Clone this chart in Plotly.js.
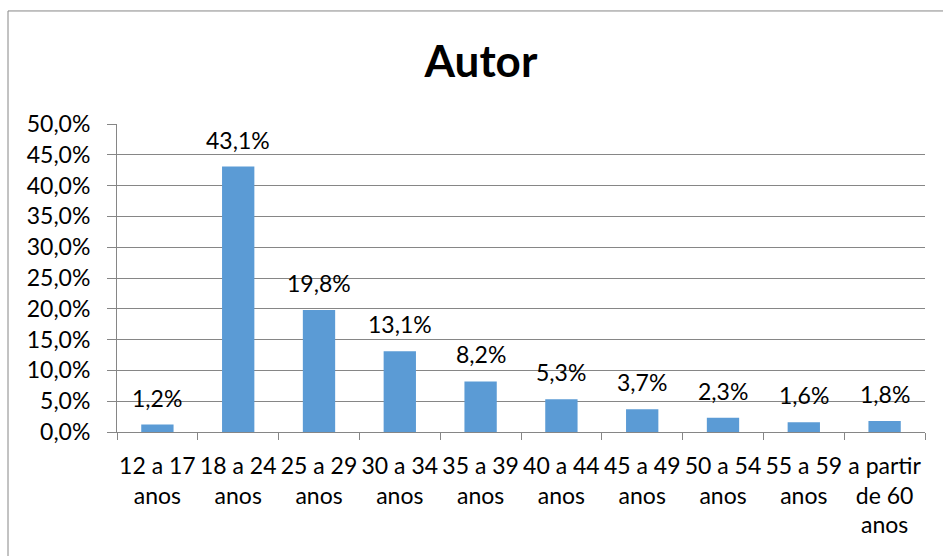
<!DOCTYPE html>
<html>
<head>
<meta charset="utf-8">
<script src="https://cdn.plot.ly/plotly-3.0.1.min.js"></script>
<style>html,body{margin:0;padding:0;background:#fff;}#chart{width:943px;height:556px;}</style>
</head>
<body>
<div id="chart"></div>
<script>
const categories = ["12 a 17<br>anos","18 a 24<br>anos","25 a 29<br>anos","30 a 34<br>anos","35 a 39<br>anos","40 a 44<br>anos","45 a 49<br>anos","50 a 54<br>anos","55 a 59<br>anos","a partir<br>de 60<br>anos"];
const values = [0.012, 0.431, 0.198, 0.131, 0.082, 0.053, 0.037, 0.023, 0.016, 0.018];
const labels = ["1,2%","43,1%","19,8%","13,1%","8,2%","5,3%","3,7%","2,3%","1,6%","1,8%"];

const FONT = "Lato, 'Open Sans', sans-serif";
const GRAY = "#868686";

const annotations = categories.map((c, i) => ({
  x: c, y: values[i], xref: "x", yref: "y",
  text: labels[i], showarrow: false, yanchor: "bottom", yshift: 11,
  font: {family: FONT, size: 23, color: "#000"}
}));

const trace = {
  type: "bar", x: categories, y: values,
  marker: {color: "#5B9BD5"}, width: 0.4, hoverinfo: "skip"
};

const layout = {
  width: 943, height: 556,
  margin: {l: 117, r: 18, t: 124, b: 124},
  paper_bgcolor: "#fff", plot_bgcolor: "#fff",
  separators: ",.",
  showlegend: false,
  title: {text: "<b>Autor</b>", x: 0.51, xref: "container", xanchor: "center", yref: "container", y: 0.89, yanchor: "middle",
    font: {family: FONT, size: 44, color: "#000"}},
  xaxis: {
    type: "category", showline: true, linecolor: GRAY, linewidth: 1,
    ticks: "outside", tickson: "boundaries", ticklen: 7, tickcolor: GRAY,
    showgrid: false, tickangle: 0, ticklabelstandoff: 13,
    tickfont: {family: FONT, size: 23, color: "#000"}
  },
  yaxis: {
    range: [0, 0.5], dtick: 0.05, tickformat: ".1%",
    showline: true, linecolor: GRAY, linewidth: 1,
    ticks: "outside", ticklen: 9, tickcolor: GRAY,
    showgrid: true, gridcolor: GRAY, gridwidth: 1, zeroline: false,
    ticklabelstandoff: 12,
    tickfont: {family: FONT, size: 23, color: "#000"}
  },
  annotations: annotations,
  shapes: [{type: "rect", xref: "paper", yref: "paper", x0: -0.1349, x1: 1.2, y0: -0.6, y1: 1.367,
    line: {color: GRAY, width: 1}, fillcolor: "rgba(0,0,0,0)", layer: "below"}]
};

Plotly.newPlot("chart", [trace], layout, {displayModeBar: false, staticPlot: true});
</script>
</body>
</html>
